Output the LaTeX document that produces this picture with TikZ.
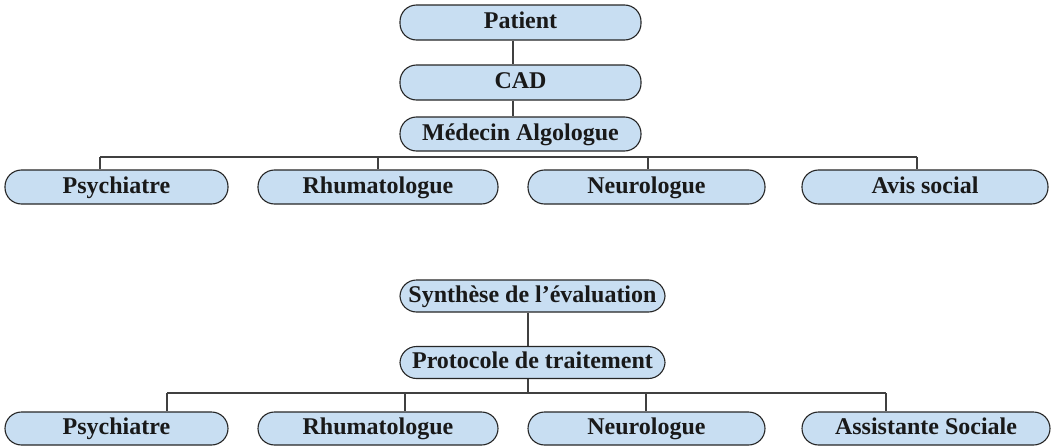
\documentclass[tikz,border=0pt]{standalone}
\usepackage{fontspec}
\setmainfont{Liberation Serif}
\usepackage{xcolor}
\usepackage{tikz}

\tikzset{
  stepbox/.style={draw=black!85,line width=1.1pt,fill=cbox,rounded corners=16.5pt,
    inner sep=0pt,text height=16pt,text depth=4pt,
    font=\fontsize{24}{28}\selectfont\bfseries,text=black!90},
  link/.style={draw=black!75,line width=1.2pt}
}

\begin{document}
\begin{tikzpicture}[x=1pt,y=-1pt]
\definecolor{cbox}{RGB}{200,222,242}
\useasboundingbox (0,0) rectangle (1053,447);
\node[stepbox,minimum width=241pt,minimum height=35pt] (patient) at (520.5,22.5) {Patient};
\node[stepbox,minimum width=241pt,minimum height=35pt] (cad) at (520.5,82.5) {CAD};
\node[stepbox,minimum width=241pt,minimum height=34pt] (algo) at (520.5,134) {M\'edecin Algologue};
\node[stepbox,minimum width=223pt,minimum height=34pt] (psyA) at (116.5,187) {Psychiatre};
\node[stepbox,minimum width=240pt,minimum height=34pt] (rhuA) at (378,187) {Rhumatologue};
\node[stepbox,minimum width=237pt,minimum height=34pt] (neuA) at (646.5,187) {Neurologue};
\node[stepbox,minimum width=246pt,minimum height=34pt] (avis) at (925,187) {Avis social};
\node[stepbox,minimum width=265pt,minimum height=32pt] (synth) at (532.5,296) {Synth\`ese de l’\'evaluation};
\node[stepbox,minimum width=265pt,minimum height=32pt] (proto) at (532.5,362.5) {Protocole de traitement};
\node[stepbox,minimum width=223pt,minimum height=33pt] (psyB) at (116.5,428.5) {Psychiatre};
\node[stepbox,minimum width=240pt,minimum height=33pt] (rhuB) at (378,428.5) {Rhumatologue};
\node[stepbox,minimum width=237pt,minimum height=33pt] (neuB) at (646.5,428.5) {Neurologue};
\node[stepbox,minimum width=248pt,minimum height=33pt] (assist) at (926,428.5) {Assistante Sociale};
\coordinate (busA) at (100,157);
\coordinate (busAend) at (917,157);
\coordinate (busB) at (167,393);
\coordinate (busBend) at (886,393);
\draw[link] (patient.south -| 513,0) -- (cad.north -| 513,0);
\draw[link] (cad.south -| 513,0) -- (algo.north -| 513,0);
\draw[link] (busA) -- (busAend);
\draw[link] (busA) -- (busA |- psyA.north);
\draw[link] (rhuA.north |- busA) -- (rhuA.north);
\draw[link] (busA -| 648,0) -- (neuA.north -| 648,0);
\draw[link] (busAend) -- (busAend |- avis.north);
\draw[link] (synth.south -| 528,0) -- (proto.north -| 528,0);
\draw[link] (proto.south -| 528,0) -- (busB -| 528,0);
\draw[link] (busB) -- (busBend);
\draw[link] (busB) -- (busB |- psyB.north);
\draw[link] (busB -| 405,0) -- (rhuB.north -| 405,0);
\draw[link] (busB -| 646,0) -- (neuB.north -| 646,0);
\draw[link] (busBend) -- (busBend |- assist.north);
\end{tikzpicture}
\end{document}
